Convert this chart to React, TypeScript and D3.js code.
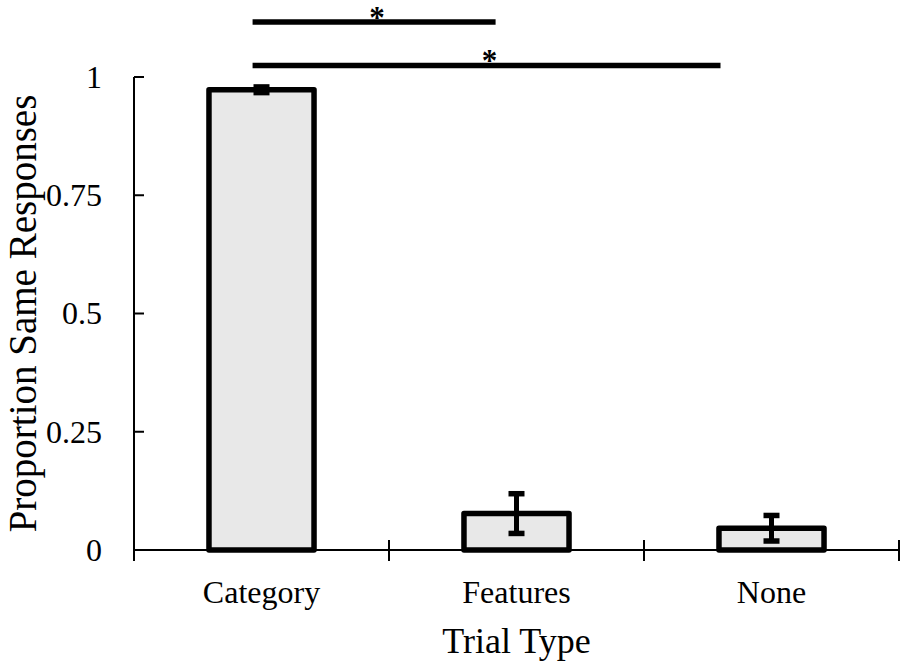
import { useEffect, useRef } from "react";
import * as d3 from "d3";

// chart data
const categories = ["Category", "Features", "None"];
const means = [0.973, 0.077, 0.046];
const errors = [0.006, 0.042, 0.027];
const yTicks = [0, 0.25, 0.5, 0.75, 1];
const yTickLabels = ["0", "0.25", "0.5", "0.75", "1"];
// significance brackets, in category-index units (0 = first category center)
const bracketStarts = [-0.035, -0.035];
const bracketEnds = [0.918, 1.8];
const bracketLabels = ["*", "*"];

const W = 902;
const H = 666;

export default function App() {
  const ref = useRef<SVGSVGElement | null>(null);

  useEffect(() => {
    const svg = d3.select(ref.current);
    svg.selectAll("*").remove();

    const font = "'Liberation Serif', 'Times New Roman', serif";
    const left = 134;
    const right = 899;
    const bottom = 550;
    const top = 77;

    const x = d3
      .scaleBand<string>()
      .domain(categories)
      .range([left, right])
      .paddingInner(0.588)
      .paddingOuter(0.294);

    const y = d3.scaleLinear().domain([0, 1]).range([bottom, top]);

    // index -> pixel, for the brackets
    const step = x.step();
    const c0 = x(categories[0])! + x.bandwidth() / 2;
    const xi = d3.scaleLinear().domain([0, 1]).range([c0, c0 + step]);

    const g = svg.append("g");

    // bars
    g.selectAll("rect.bar")
      .data(means)
      .join("rect")
      .attr("class", "bar")
      .attr("x", (_, i) => x(categories[i])!)
      .attr("y", (d) => y(d))
      .attr("width", x.bandwidth())
      .attr("height", (d) => y(0) - y(d))
      .attr("fill", "#e8e8e8")
      .attr("stroke", "#000")
      .attr("stroke-width", 5.5)
      .attr("stroke-linejoin", "round");

    // error bars
    const eb = g
      .selectAll("g.err")
      .data(means)
      .join("g")
      .attr("class", "err")
      .attr("transform", (_, i) => `translate(${x(categories[i])! + x.bandwidth() / 2},0)`);
    eb.append("line")
      .attr("y1", (d, i) => y(d + errors[i]))
      .attr("y2", (d, i) => y(d - errors[i]))
      .attr("stroke", "#000")
      .attr("stroke-width", 5);
    eb.append("line")
      .attr("x1", -8)
      .attr("x2", 8)
      .attr("y1", (d, i) => y(d + errors[i]))
      .attr("y2", (d, i) => y(d + errors[i]))
      .attr("stroke", "#000")
      .attr("stroke-width", 5.5);
    eb.append("line")
      .attr("x1", -8)
      .attr("x2", 8)
      .attr("y1", (d, i) => y(d - errors[i]))
      .attr("y2", (d, i) => y(d - errors[i]))
      .attr("stroke", "#000")
      .attr("stroke-width", 5.5);

    // y axis
    g.append("line")
      .attr("x1", left)
      .attr("x2", left)
      .attr("y1", y(1))
      .attr("y2", y(0))
      .attr("stroke", "#000")
      .attr("stroke-width", 2);
    g.selectAll("line.ytick")
      .data(yTicks)
      .join("line")
      .attr("class", "ytick")
      .attr("x1", left)
      .attr("x2", left + 10)
      .attr("y1", (d) => y(d))
      .attr("y2", (d) => y(d))
      .attr("stroke", "#000")
      .attr("stroke-width", 2);
    g.selectAll("text.ylab")
      .data(yTicks)
      .join("text")
      .attr("class", "ylab")
      .attr("x", 102)
      .attr("y", (d) => y(d))
      .attr("dy", "0.34em")
      .attr("text-anchor", "end")
      .attr("font-family", font)
      .attr("font-size", 32)
      .text((_, i) => yTickLabels[i]);

    // x axis
    g.append("line")
      .attr("x1", left)
      .attr("x2", right)
      .attr("y1", bottom)
      .attr("y2", bottom)
      .attr("stroke", "#000")
      .attr("stroke-width", 2);
    const bounds = categories.map((c) => x(c)! - (step - x.bandwidth()) / 2);
    bounds.push(right);
    g.selectAll("line.xtick")
      .data(bounds)
      .join("line")
      .attr("class", "xtick")
      .attr("x1", (d) => d)
      .attr("x2", (d) => d)
      .attr("y1", (_, i) => (i === 0 ? bottom : bottom - 10))
      .attr("y2", bottom + 11)
      .attr("stroke", "#000")
      .attr("stroke-width", 2);
    g.selectAll("text.xlab")
      .data(categories)
      .join("text")
      .attr("class", "xlab")
      .attr("x", (d) => x(d)! + x.bandwidth() / 2)
      .attr("y", 603)
      .attr("text-anchor", "middle")
      .attr("font-family", font)
      .attr("font-size", 32)
      .text((d) => d);

    // axis titles
    g.append("text")
      .attr("x", (left + right) / 2)
      .attr("y", 653)
      .attr("text-anchor", "middle")
      .attr("font-family", font)
      .attr("font-size", 36)
      .text("Trial Type");
    g.append("text")
      .attr("transform", `translate(36,${y(0.5)}) rotate(-90)`)
      .attr("text-anchor", "middle")
      .attr("font-family", font)
      .attr("font-size", 39)
      .text("Proportion Same Responses");

    // significance brackets
    const bracketY = [22, 65.5];
    bracketStarts.forEach((s, i) => {
      g.append("line")
        .attr("x1", xi(s))
        .attr("x2", xi(bracketEnds[i]))
        .attr("y1", bracketY[i])
        .attr("y2", bracketY[i])
        .attr("stroke", "#000")
        .attr("stroke-width", 5.5);
      g.append("text")
        .attr("x", (xi(s) + xi(bracketEnds[i])) / 2 + 3)
        .attr("y", bracketY[i] + 5.8)
        .attr("text-anchor", "middle")
        .attr("font-family", font)
        .attr("font-weight", "bold")
        .attr("font-size", 31)
        .text(bracketLabels[i]);
    });
  }, []);

  return (
    <svg
      ref={ref}
      width={W}
      height={H}
      style={{ position: "absolute", left: 0, top: 0, background: "#fff" }}
    />
  );
}
